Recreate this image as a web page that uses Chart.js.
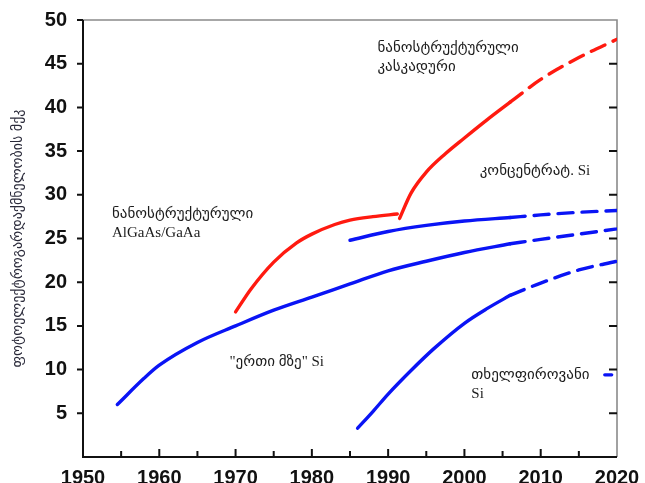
<!DOCTYPE html>
<html>
<head>
<meta charset="utf-8">
<script src="https://cdn.jsdelivr.net/npm/chart.js@4"></script>
<style>
  html, body { margin: 0; padding: 0; background: #fff; }
  #wrap { width: 645px; height: 483px; }
</style>
</head>
<body>
<div id="wrap"><canvas id="c" width="645" height="483"></canvas></div>
<script>
// Efficiency of solar cells over time, per technology (%), [year, value]
const singleSunSi      = [[1954.5, 6.0], [1958, 9.0], [1960, 10.5], [1965, 13.1], [1970, 15.0], [1975, 16.8], [1980, 18.3], [1985, 19.8], [1990, 21.3], [1995, 22.4], [2000, 23.4], [2006, 24.4]];
const singleSunSiTrend = [[2006, 24.4], [2010, 24.9], [2015, 25.5], [2020, 26.1]];
const concentratorSi      = [[1985, 24.8], [1990, 25.8], [1995, 26.5], [2000, 27.0], [2006, 27.4]];
const concentratorSiTrend = [[2006, 27.4], [2010, 27.7], [2015, 28.0], [2020, 28.2]];
const thinFilmSi      = [[1986, 3.3], [1988, 5.2], [1990, 7.2], [1993, 9.9], [1996, 12.4], [2000, 15.3], [2003, 17.0], [2006, 18.5]];
const thinFilmSiTrend = [[2006, 18.5], [2010, 19.9], [2015, 21.4], [2020, 22.4]];
const thinFilmLegendDash = [[2018.4, 9.4], [2019.3, 9.4]];
const algaasGaas = [[1970, 16.6], [1972, 19.2], [1975, 22.3], [1978, 24.5], [1980, 25.5], [1983, 26.6], [1985, 27.1], [1988, 27.5], [1991.2, 27.8]];
const cascade      = [[1991.5, 27.3], [1993, 30.2], [1995, 32.6], [1997.5, 34.7], [2000, 36.5], [2003, 38.6], [2006, 40.6]];
const cascadeTrend = [[2006, 40.6], [2010, 43.2], [2015, 45.7], [2020, 47.8]];

const yearTicks = [1950, 1960, 1970, 1980, 1990, 2000, 2010, 2020];
const effTicks = [5, 10, 15, 20, 25, 30, 35, 40, 45, 50];

const yTitle = 'ფოტოელექტროგარდაქმნელობის მქკ';
// [lines, year, value] — text anchored at its left edge, first baseline
const notes = [
  [['ნანოსტრუქტურული', 'კასკადური'], 1988.6, 46.3],
  [['ნანოსტრუქტურული', 'AlGaAs/GaAa'], 1953.8, 27.3],
  [['კონცენტრატ. Si'], 2002.0, 32.3],
  [['"ერთი მზე" Si'], 1969.2, 10.4],
  [['თხელფიროვანი', 'Si'], 2000.9, 8.9]
];

const RED = '#ff1a10';
const BLUE = '#0a14f5';
const toXY = arr => arr.map(([x, y]) => ({ x, y }));

function line(data, color, dashed) {
  return {
    data: toXY(data),
    borderColor: color,
    borderWidth: 3.4,
    borderDash: dashed ? [15, 9] : [],
    borderCapStyle: 'round',
    pointRadius: 0,
    fill: false,
    cubicInterpolationMode: 'monotone'
  };
}

const framePlugin = {
  id: 'frame',
  beforeDatasetsDraw(chart) {
    const { ctx, chartArea: a, scales: { x, y } } = chart;
    ctx.save();
    // top and right border
    ctx.strokeStyle = '#8a8a8a';
    ctx.lineWidth = 1.6;
    ctx.beginPath();
    ctx.moveTo(a.left, a.top);
    ctx.lineTo(a.right, a.top);
    ctx.lineTo(a.right, a.bottom);
    ctx.stroke();
    // left and bottom axes
    ctx.strokeStyle = '#111';
    ctx.lineWidth = 2;
    ctx.beginPath();
    ctx.moveTo(a.left, a.top);
    ctx.lineTo(a.left, a.bottom);
    ctx.lineTo(a.right, a.bottom);
    ctx.stroke();
    // y ticks: outward on the left, inward on the right
    ctx.beginPath();
    effTicks.forEach(v => {
      const py = y.getPixelForValue(v);
      ctx.moveTo(a.left - 6, py); ctx.lineTo(a.left, py);
      if (v < 50) { ctx.moveTo(a.right - 8, py); ctx.lineTo(a.right, py); }
    });
    // x ticks: inward, minor every 5 years
    for (let yr = 1955; yr < 2020; yr += 5) {
      const px = x.getPixelForValue(yr);
      const len = yr % 10 === 0 ? 8 : 6;
      ctx.moveTo(px, a.bottom); ctx.lineTo(px, a.bottom - len);
    }
    ctx.stroke();
    ctx.restore();
  },
  afterDatasetsDraw(chart) {
    const { ctx, scales: { x, y } } = chart;
    ctx.save();
    ctx.fillStyle = '#1c1c1c';
    ctx.font = "15px 'Liberation Serif', 'DejaVu Sans'";
    ctx.textBaseline = 'alphabetic';
    ctx.textAlign = 'left';
    notes.forEach(([lines, yr, v]) => {
      const px = x.getPixelForValue(yr);
      const py = y.getPixelForValue(v);
      lines.forEach((t, i) => ctx.fillText(t, px, py + i * 19));
    });
    ctx.restore();
  }
};

new Chart(document.getElementById('c'), {
  type: 'line',
  data: {
    datasets: [
      line(singleSunSi, BLUE, false),
      line(singleSunSiTrend, BLUE, true),
      line(concentratorSi, BLUE, false),
      line(concentratorSiTrend, BLUE, true),
      line(thinFilmSi, BLUE, false),
      line(thinFilmSiTrend, BLUE, true),
      line(thinFilmLegendDash, BLUE, false),
      line(algaasGaas, RED, false),
      line(cascade, RED, false),
      line(cascadeTrend, RED, true)
    ]
  },
  options: {
    responsive: false,
    animation: false,
    layout: { padding: { left: 0, right: 28, top: 20, bottom: 0 } },
    plugins: { legend: { display: false }, tooltip: { enabled: false } },
    scales: {
      x: {
        type: 'linear',
        min: 1950, max: 2020,
        afterBuildTicks: s => { s.ticks = yearTicks.map(v => ({ value: v })); },
        afterFit: s => { s.height = 26; },
        grid: { display: false },
        border: { display: false },
        ticks: {
          padding: 1,
          color: '#111',
          font: { family: "'Liberation Sans', Arial", size: 20, weight: 'bold' },
          maxRotation: 0,
          autoSkip: false,
          callback: v => String(v)
        }
      },
      y: {
        min: 0, max: 50,
        afterBuildTicks: s => { s.ticks = effTicks.map(v => ({ value: v })); },
        afterFit: s => { s.width = 83; },
        grid: { display: false },
        border: { display: false },
        ticks: {
          padding: 8,
          color: '#111',
          font: { family: "'Liberation Sans', Arial", size: 20, weight: 'bold' },
          autoSkip: false
        },
        title: {
          display: true,
          text: yTitle,
          color: '#2a2a3a',
          font: { family: "'DejaVu Sans'", size: 14 },
          padding: { top: 10, bottom: 0 }
        }
      }
    }
  },
  plugins: [framePlugin]
});
</script>
</body>
</html>
